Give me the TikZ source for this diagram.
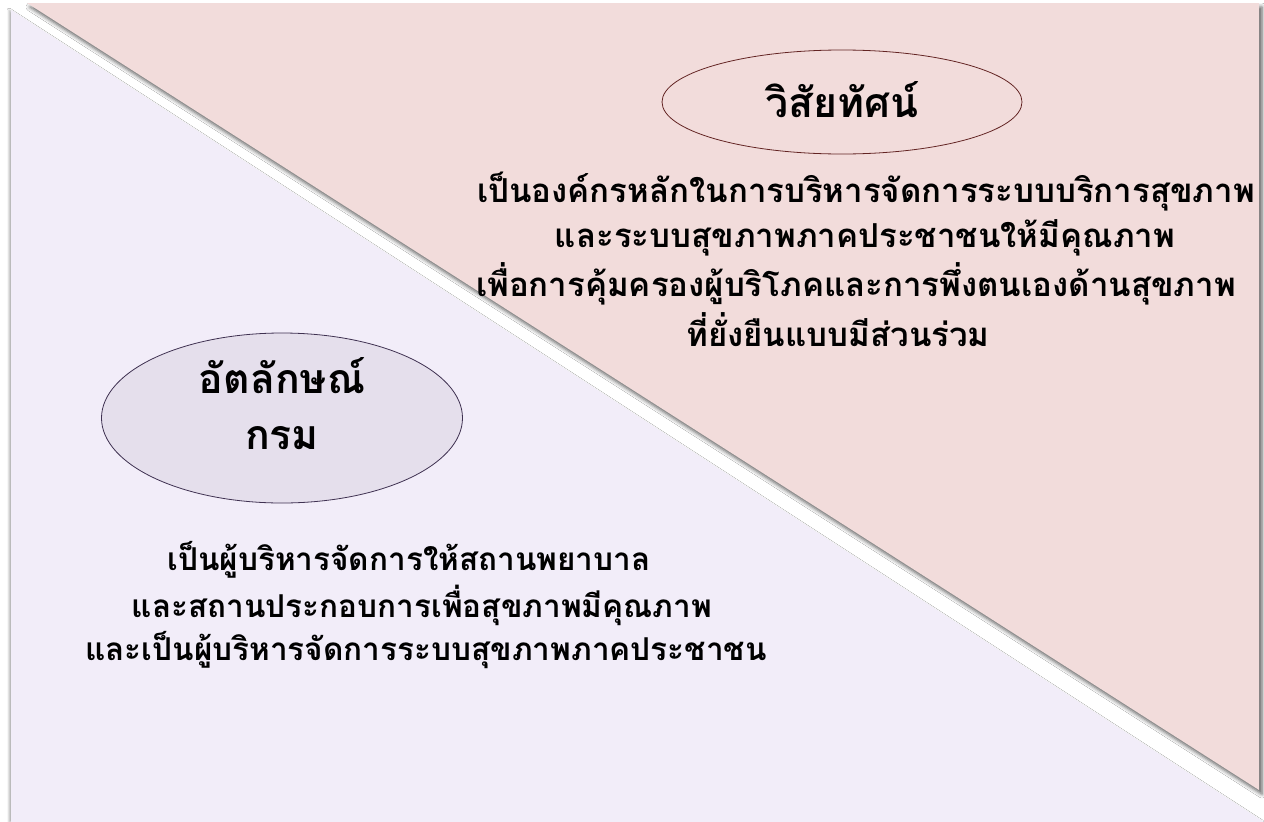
\documentclass[tikz,border=0pt]{standalone}
\usepackage{fontspec}
\usetikzlibrary{shapes.geometric,shadows.blur}
\newfontfamily\thaifont[Script=Thai]{Loma}
\definecolor{pinkbg}{HTML}{F2DCDB}
\definecolor{lavbg}{HTML}{F2EDF9}
\definecolor{lavell}{HTML}{E5DFEC}
\definecolor{redline}{HTML}{632423}
\definecolor{purpline}{HTML}{3F3151}
\tikzset{
  body/.style={font=\thaifont\bfseries\fontsize{33}{38}\selectfont, text=black, inner sep=0pt, anchor=center},
  bodysm/.style={font=\thaifont\bfseries\fontsize{31.5}{36}\selectfont, text=black, inner sep=0pt, anchor=center},
  head/.style={font=\thaifont\bfseries\fontsize{41}{46}\selectfont, text=black, inner sep=0pt, anchor=center},
}
\begin{document}
\begin{tikzpicture}[x=1pt,y=-1pt]
\useasboundingbox (0,0) rectangle (1264,822);
\fill[white] (0,0) rectangle (1264,822);
% lavender region
\fill[lavbg, blur shadow={shadow xshift=-2pt, shadow yshift=0pt, shadow blur radius=2pt, shadow opacity=30}]
  (11,10) -- (1264,822) -- (11,822) -- cycle;
% pink region
\fill[pinkbg, blur shadow={shadow xshift=3pt, shadow yshift=-4pt, shadow blur radius=4pt, shadow opacity=65}]
  (27,3) -- (1259,3) -- (1259,790) -- cycle;
% ellipses
\node[ellipse, draw=redline, line width=0.8pt, minimum width=360pt, minimum height=104pt] (vis) at (842,102) {};
\node[head] (vist) at (842,100) {วิสัยทัศน์};
\node[ellipse, draw=purpline, fill=lavell, line width=0.8pt, minimum width=361pt, minimum height=170pt] (idn) at (282,418) {};
\node[head] (idt1) at (282,376) {อัตลักษณ์};
\node[head] (idt2) at (282,438) {กรม};
% vision text
\node[body] (v1) at (866,192) {เป็นองค์กรหลักในการบริหารจัดการระบบบริการสุขภาพ};
\node[body] (v2) at (865,238) {และระบบสุขภาพภาคประชาชนให้มีคุณภาพ};
\node[body] (v3) at (856,284) {เพื่อการคุ้มครองผู้บริโภคและการพึ่งตนเองด้านสุขภาพ};
\node[body] (v4) at (838,330) {ที่ยั่งยืนแบบมีส่วนร่วม};
% identity text
\node[bodysm] (i1) at (409,560) {เป็นผู้บริหารจัดการให้สถานพยาบาล};
\node[bodysm] (i2) at (422,605) {และสถานประกอบการเพื่อสุขภาพมีคุณภาพ};
\node[bodysm] (i3) at (426,650) {และเป็นผู้บริหารจัดการระบบสุขภาพภาคประชาชน};
\end{tikzpicture}
\end{document}
